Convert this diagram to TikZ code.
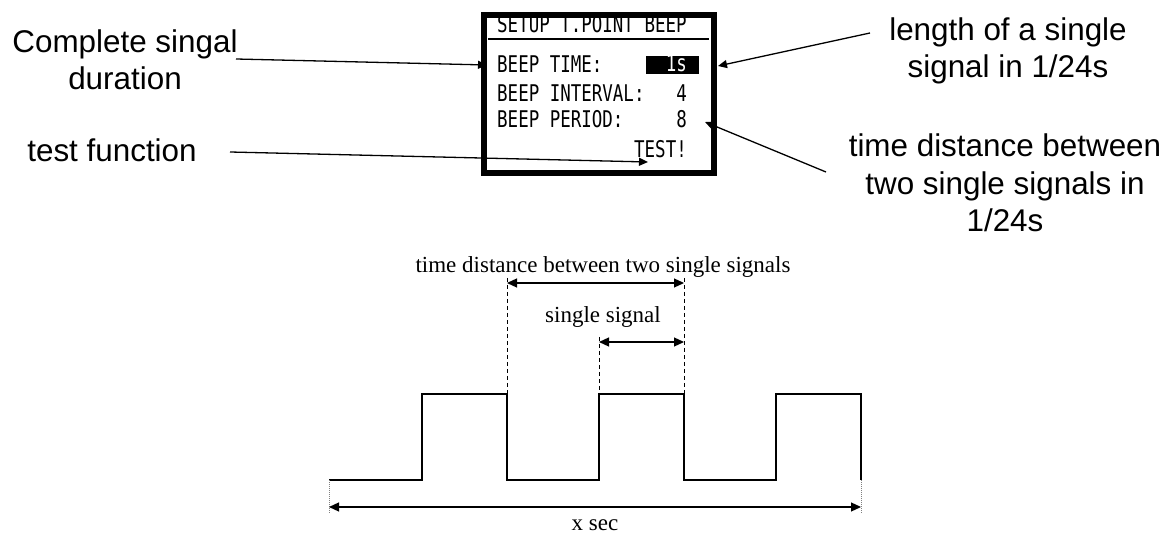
\documentclass[tikz,border=0pt]{standalone}
\usepackage{fontspec}
\setmainfont{Liberation Sans}
\newfontfamily\serifface{Liberation Serif}
\newfontfamily\lcdface[FakeStretch=0.76]{DejaVu Sans Mono}
\usetikzlibrary{arrows.meta}

\begin{document}
\begin{tikzpicture}[x=1pt,y=-1pt,
  label/.style={font=\fontsize{31.4}{37.5}\selectfont, align=center, inner sep=0pt, anchor=base},
  dimtext/.style={font=\serifface\fontsize{23}{27}\selectfont, inner sep=0pt, anchor=base},
  lcd/.style={font=\lcdface\fontsize{23}{26}\selectfont, inner sep=0pt, anchor=base west},
  lcdval/.style={font=\lcdface\fontsize{23}{26}\selectfont, inner sep=0pt, anchor=base east},
  callout/.style={line width=1.3pt, -{Triangle[length=9pt,width=8pt]}},
  wave/.style={line width=1.6pt, line join=miter},
  guide/.style={line width=0.9pt, dash pattern=on 4pt off 3pt},
  tick/.style={line width=0.8pt, gray, dash pattern=on 1pt off 1pt},
  dimline/.style={line width=1.2pt, {Triangle[length=10pt,width=9pt]}-{Triangle[length=10pt,width=9pt]}},
]
\useasboundingbox (0,0) rectangle (1168,534);

% ---- display of the setup screen ----
\node[draw, line width=6pt, minimum width=230pt, minimum height=158pt, inner sep=0pt]
  (screen) at (599,94) {};
\draw[line width=2pt] (488,39.5) -- (709,39.5);
\node[lcd] (hdr) at (497,33) {SETUP T.POINT BEEP};
\node[lcd] (time) at (497,73) {BEEP TIME:};
\fill (646,56) rectangle (699,74);
\node[lcdval, text=white] (timev) at (687,72) {1s};
\node[lcd] (intv) at (497,102) {BEEP INTERVAL:};
\node[lcdval] (intvv) at (687,102) {4};
\node[lcd] (per) at (497,128) {BEEP PERIOD:};
\node[lcdval] (perv) at (687,128) {8};
\node[lcdval] (test) at (687,158) {TEST!};

% ---- callout labels (base = baseline of the last line) ----
\node[label] (cs) at (125,90) {Complete singal\\duration};
\node[label] (tf) at (112,162) {test function};
\node[label] (len) at (1008,78) {length of a single\\signal in 1/24s};
\node[label] (td) at (1005,232) {time distance between\\two single signals in\\1/24s};

\coordinate (csA) at (236,59);   \coordinate (csB) at (487,65);
\coordinate (tfA) at (230,152);  \coordinate (tfB) at (648,162);
\coordinate (lenA) at (870,33);  \coordinate (lenB) at (718,66);
\coordinate (tdA) at (826,172);  \coordinate (tdB) at (705,122);
\draw[callout] (csA) -- (csB);
\draw[callout] (tfA) -- (tfB);
\draw[callout] (lenA) -- (lenB);
\draw[callout] (tdA) -- (tdB);

% ---- pulse train ----
\draw[wave] (329,480) -- (422,480) -- (422,394) -- (507,394) -- (507,480)
  -- (599,480) -- (599,394) -- (684,394) -- (684,480) -- (776,480)
  -- (776,394) -- (861,394) -- (861,480);

% guide lines
\draw[guide] (507,278) -- (507,394);
\draw[guide] (684,278) -- (684,394);
\draw[guide] (599,337) -- (599,394);
\draw[tick] (329,480) -- (329,513);
\draw[tick] (861,480) -- (861,513);

% dimensions
\coordinate (pA) at (507,283); \coordinate (pB) at (684,283);
\coordinate (sA) at (599,342); \coordinate (sB) at (684,342);
\coordinate (xA) at (329,507); \coordinate (xB) at (861,507);
\draw[dimline] (pA) -- (pB);
\draw[dimline] (sA) -- (sB);
\draw[dimline] (xA) -- (xB);

\node[dimtext] (ptxt) at (603,273) {time distance between two single signals};
\node[dimtext] (stxt) at (603,323) {single signal};
\node[dimtext] (xtxt) at (595,530) {x sec};
\end{tikzpicture}
\end{document}
